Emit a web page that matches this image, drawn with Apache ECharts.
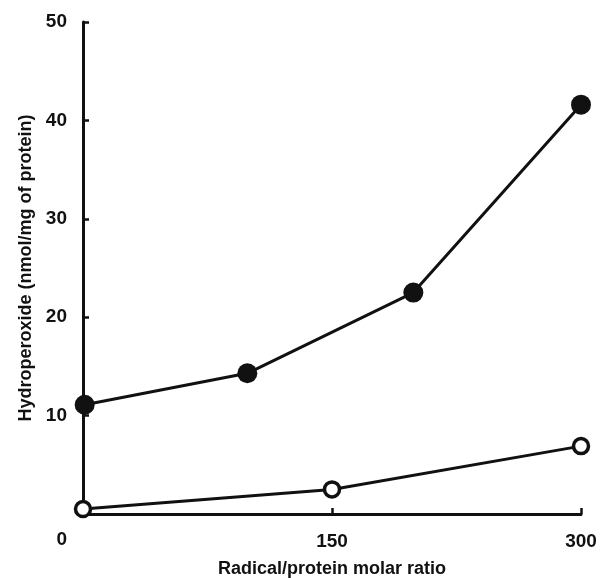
<!DOCTYPE html>
<html>
<head>
<meta charset="utf-8">
<script src="https://cdn.jsdelivr.net/npm/echarts@6/dist/echarts.min.js"></script>
<style>
  html, body { margin: 0; padding: 0; background: #fff; }
  #chart { width: 602px; height: 578px; }
</style>
</head>
<body>
<div id="chart"></div>
<script>
// radical/protein molar ratio vs hydroperoxide
const filledX = [1, 99, 199, 300];
const filledY = [11.1, 14.3, 22.5, 41.6];
const openX = [0, 150, 300];
const openY = [0.5, 2.5, 6.9];
const xTicks = [0, 150, 300];
const yTicks = [0, 10, 20, 30, 40, 50];

const ink = "#111";
const font = "'Liberation Sans', Arial, sans-serif";

let chart = echarts.init(document.getElementById("chart"));

let option = {
  animation: false,
  backgroundColor: "#fff",
  grid: {
    left: 83,
    right: 21,
    top: 22,
    bottom: 64,
    containLabel: false,
    outerBoundsMode: "none",
  },
  xAxis: {
    type: "value",
    min: xTicks[0],
    max: xTicks[xTicks.length - 1],
    interval: 150,
    name: "Radical/protein molar ratio",
    nameLocation: "middle",
    nameGap: 46,
    nameTextStyle: { color: ink, fontSize: 18, fontWeight: "bold", fontFamily: font },
    axisLine: { lineStyle: { color: ink, width: 3 } },
    axisTick: { inside: true, length: 6, lineStyle: { color: ink, width: 2.5 } },
    axisLabel: {
      color: ink,
      fontSize: 19,
      fontWeight: "bold",
      fontFamily: font,
      margin: 18,
      formatter: (v) => (v === 0 ? "" : String(v)),
    },
    splitLine: { show: false },
  },
  yAxis: {
    type: "value",
    min: yTicks[0],
    max: yTicks[yTicks.length - 1],
    interval: 10,
    name: "Hydroperoxide (nmol/mg of protein)",
    nameLocation: "middle",
    nameGap: 46,
    nameTextStyle: { color: ink, fontSize: 18, fontWeight: "bold", fontFamily: font },
    axisLine: { lineStyle: { color: ink, width: 3 } },
    axisTick: { inside: true, length: 6, lineStyle: { color: ink, width: 2.5 } },
    axisLabel: {
      color: ink,
      fontSize: 19,
      fontWeight: "bold",
      fontFamily: font,
      margin: 16,
      formatter: (v) => (v === 0 ? "" : String(v)),
    },
    splitLine: { show: false },
  },
  graphic: [
    {
      type: "text",
      x: 67,
      y: 540,
      style: {
        text: String(yTicks[0]),
        fill: ink,
        fontSize: 19,
        fontWeight: "bold",
        fontFamily: font,
        align: "right",
        verticalAlign: "middle",
      },
    },
  ],
  series: [
    {
      name: "filled",
      type: "line",
      data: filledX.map((x, i) => [x, filledY[i]]),
      symbol: "circle",
      symbolSize: 20,
      lineStyle: { color: ink, width: 3 },
      itemStyle: { color: ink, borderWidth: 0 },
      z: 3,
    },
    {
      name: "open",
      type: "line",
      data: openX.map((x, i) => [x, openY[i]]),
      symbol: "circle",
      symbolSize: 15,
      lineStyle: { color: ink, width: 3 },
      itemStyle: { color: "#fff", borderColor: ink, borderWidth: 3.5 },
      z: 3,
    },
  ],
};

chart.setOption(option);
window.addEventListener("resize", () => {
  chart.resize();
});
</script>
</body>
</html>
